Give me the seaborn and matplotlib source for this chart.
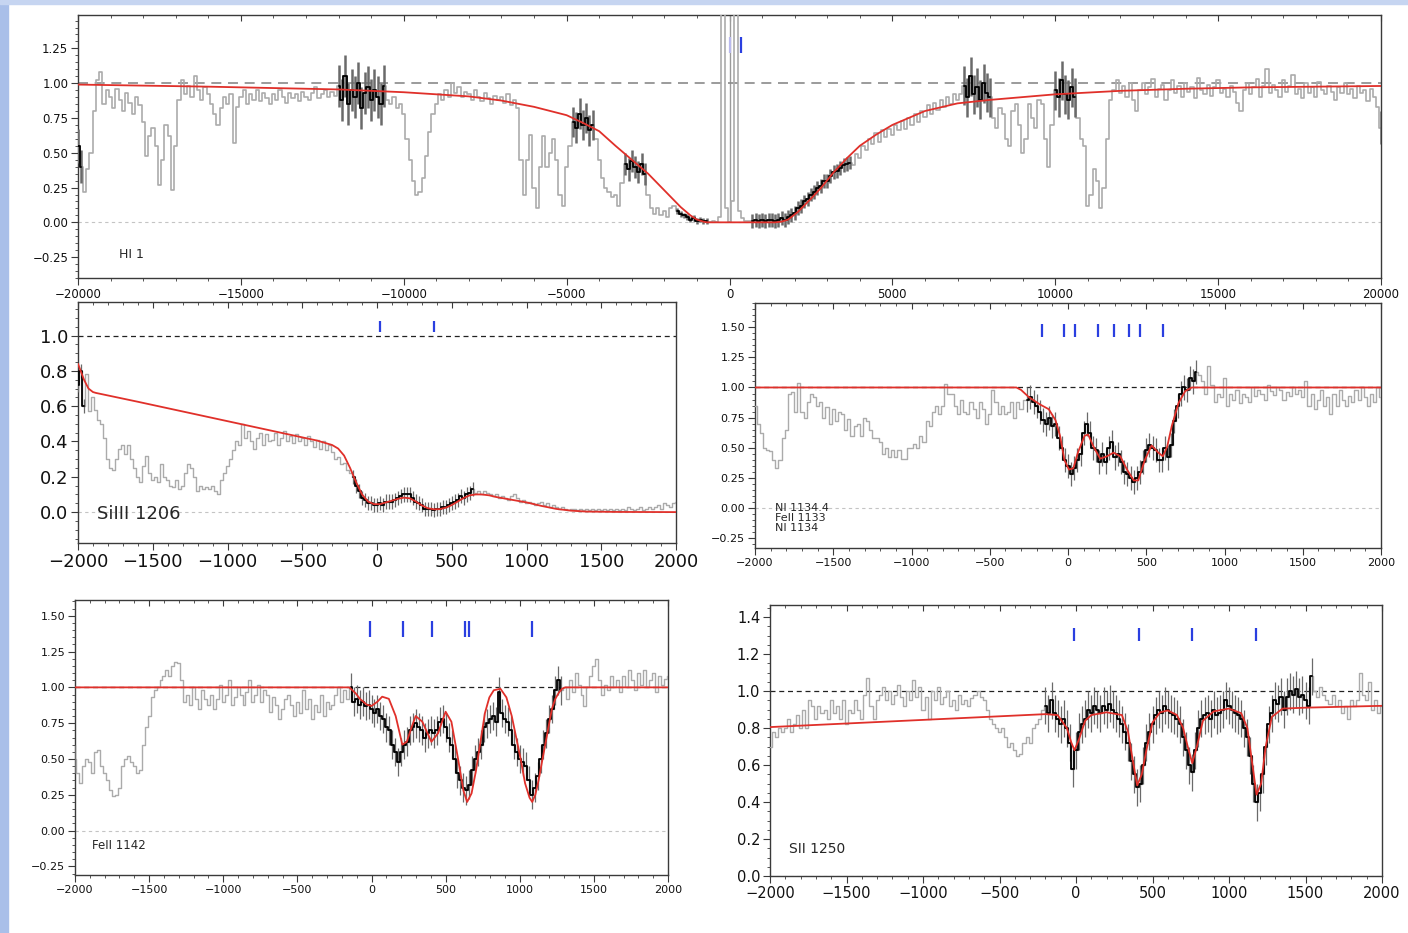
import numpy as np
import matplotlib
matplotlib.use("Agg")
import matplotlib.pyplot as plt
from matplotlib.ticker import MultipleLocator
from matplotlib.patches import Rectangle
import seaborn as sns

sns.set_theme(style="white")
plt.rcParams['font.family'] = ['DejaVu Sans']
plt.rcParams['axes.unicode_minus'] = True

# ---------------- HI 1 (wide velocity window, 100 km/s bins) ----------------
HI_V0, HI_DV = -20000, 100
HI_FLUX = [
    0.55, 0.4, 0.22, 0.38, 0.5, 0.8, 1.02, 1.08, 0.85, 0.95,
    0.9, 0.82, 0.96, 0.88, 0.8, 0.93, 0.86, 0.78, 0.9, 0.84,
    0.72, 0.48, 0.62, 0.68, 0.55, 0.27, 0.45, 0.7, 0.62, 0.23,
    0.55, 0.88, 1.02, 0.92, 0.98, 0.9, 1.05, 0.95, 0.88, 0.97,
    0.92, 0.85, 0.78, 0.7, 0.82, 0.9, 0.85, 0.92, 0.57, 0.83,
    0.9, 0.95, 0.85, 0.92, 0.88, 0.95, 0.87, 0.93, 0.89, 0.85,
    0.92, 0.88, 0.95, 0.9, 0.86, 0.93, 0.89, 0.92, 0.87, 0.94,
    0.9, 0.88, 0.93, 0.97, 0.89, 0.92, 0.95, 0.9, 0.94, 0.91,
    0.98, 0.88, 1.05, 0.85, 0.95, 0.9, 1.0, 0.82, 0.93, 0.97,
    0.88, 0.95, 0.9, 0.85, 0.98, 0.88, 0.85, 0.9, 0.82, 0.85,
    0.78, 0.6, 0.45, 0.3, 0.2, 0.22, 0.32, 0.48, 0.65, 0.78,
    0.85, 0.92, 0.88, 0.95, 0.9, 1.0, 0.93, 0.97, 0.9, 0.94,
    0.92, 0.88, 0.95, 0.9, 0.87, 0.93, 0.89, 0.85, 0.91, 0.88,
    0.9, 0.86, 0.92, 0.84, 0.88, 0.82, 0.45, 0.2, 0.45, 0.63,
    0.25, 0.1, 0.4, 0.62, 0.4, 0.5, 0.6, 0.45, 0.2, 0.12,
    0.4, 0.55, 0.72, 0.68, 0.78, 0.7, 0.75, 0.66, 0.7, 0.6,
    0.45, 0.32, 0.25, 0.22, 0.18, 0.2, 0.12, 0.28, 0.42, 0.38,
    0.44, 0.4, 0.36, 0.42, 0.35, 0.2, 0.1, 0.06, 0.1, 0.05,
    0.08, 0.04, 0.1, 0.12, 0.08, 0.06, 0.05, 0.04, 0.02, 0.03,
    0.01, 0.02, 0.01, 0.01, 0.0, 0.01, 0.0, 0.04, 3.0, 0.1,
    0.0, 0.15, 3.0, 0.08, 0.03, 0.01, 0.01, 0.01, 0.02, 0.01,
    0.02, 0.01, 0.015, 0.02, 0.01, 0.02, 0.03, 0.02, 0.04, 0.05,
    0.07, 0.1, 0.12, 0.15, 0.17, 0.2, 0.22, 0.25, 0.26, 0.3,
    0.3, 0.33, 0.36, 0.37, 0.39, 0.41, 0.42, 0.43, 0.41, 0.49,
    0.46, 0.55, 0.52, 0.6, 0.56, 0.64, 0.58, 0.66, 0.61, 0.67,
    0.63, 0.7, 0.66, 0.73, 0.67, 0.75, 0.7, 0.78, 0.72, 0.8,
    0.76, 0.84, 0.78, 0.86, 0.81, 0.88, 0.83, 0.9, 0.85, 0.92,
    0.88, 0.92, 0.98, 0.9, 1.05, 0.92, 0.97, 0.88, 1.0, 0.93,
    0.9, 0.75, 0.68, 0.82, 0.78, 0.6, 0.55, 0.8, 0.85, 0.7,
    0.5, 0.6, 0.85, 0.75, 0.68, 0.88, 0.85, 0.6, 0.4, 0.7,
    0.95, 0.9, 1.02, 0.92, 0.88, 0.97, 0.9, 0.75, 0.6, 0.55,
    0.12, 0.2, 0.38, 0.3, 0.1, 0.25, 0.6, 0.88, 0.95, 1.02,
    0.93, 0.98, 0.9, 1.0, 0.88, 0.8, 0.95, 1.0, 0.92, 0.97,
    1.03, 0.9, 0.96, 0.99, 0.88, 0.95, 1.02, 0.93, 0.98, 0.9,
    1.0, 0.94, 0.97, 0.89, 1.04, 0.95, 0.92, 0.99, 0.91, 0.97,
    1.02, 0.93, 0.96, 0.9, 0.98, 0.94, 0.86, 0.8, 0.95, 1.0,
    0.92, 0.97, 1.03, 0.9, 0.98, 1.1, 0.93, 0.99, 0.95, 0.9,
    1.02, 0.94, 0.98, 1.06, 0.92, 0.96, 0.89, 1.0, 0.93, 0.97,
    0.9, 1.01, 0.95, 0.92, 0.98, 0.94, 0.88, 0.97, 0.93, 1.0,
    0.92, 0.96, 0.89, 0.98, 0.93, 0.95, 0.87, 0.96, 0.9, 0.83,
    0.68,
]
HI_FIT_WINDOWS = [(-20000, -19850), (-12000, -10550), (-4850, -4150),
                  (-3250, -2550), (-1650, -650), (650, 3750),
                  (7150, 8050), (9950, 10650), (19950, 20000)]
HI_FIT_ERR = [0.12, 0.15, 0.11, 0.08, 0.02, 0.05, 0.14, 0.14, 0.12]
HI_MODEL_V = [-20000, -16000, -12000, -10000, -8000, -7000, -6000, -5000,
              -4500, -4000, -3500, -3000, -2500, -2000, -1500, -1200, -1000,
              -800, -700, 1400, 1600, 1800, 2100, 2500, 2800, 3200, 3600,
              4000, 4500, 5000, 6000, 7000, 8000, 9000, 10000, 12000, 14000,
              16000, 18000, 20000]
HI_MODEL_F = [0.99, 0.975, 0.955, 0.935, 0.905, 0.875, 0.83, 0.77,
              0.715, 0.655, 0.55, 0.45, 0.35, 0.23, 0.11, 0.05, 0.02,
              0.005, 0.0, 0.0, 0.005, 0.02, 0.075, 0.17, 0.245, 0.36, 0.46,
              0.55, 0.63, 0.7, 0.8, 0.855, 0.88, 0.9, 0.92, 0.945, 0.96,
              0.97, 0.975, 0.98]
HI_MARKS_FAINT = [0]
HI_MARKS = [360]

# ---------------- metal lines (20 km/s bins from -2000 to 2000) ----------------
NARROW_V0, NARROW_DV = -2000, 20

SIIII_FLUX = [
    0.72, 0.8, 0.6, 0.78, 0.57, 0.65, 0.58, 0.52, 0.5, 0.42,
    0.3, 0.25, 0.24, 0.3, 0.36, 0.38, 0.33, 0.38, 0.3, 0.25,
    0.2, 0.17, 0.26, 0.32, 0.22, 0.18, 0.2, 0.17, 0.27, 0.2,
    0.18, 0.15, 0.14, 0.18, 0.13, 0.15, 0.22, 0.27, 0.25, 0.2,
    0.12, 0.15, 0.13, 0.14, 0.13, 0.15, 0.12, 0.1, 0.18, 0.22,
    0.26, 0.3, 0.35, 0.4, 0.38, 0.5, 0.42, 0.46, 0.4, 0.36,
    0.42, 0.45, 0.38, 0.44, 0.4, 0.41, 0.45, 0.38, 0.42, 0.46,
    0.4, 0.43, 0.39, 0.44, 0.4, 0.42, 0.38, 0.43, 0.4, 0.37,
    0.41, 0.36, 0.4, 0.35, 0.38, 0.34, 0.3, 0.31, 0.27, 0.28,
    0.24, 0.22, 0.2, 0.15, 0.12, 0.08, 0.07, 0.05, 0.05, 0.04,
    0.04, 0.05, 0.04, 0.06, 0.06, 0.06, 0.07, 0.08, 0.09, 0.1,
    0.1, 0.1, 0.08, 0.06, 0.05, 0.04, 0.02, 0.02, 0.02, 0.01,
    0.02, 0.02, 0.03, 0.03, 0.04, 0.05, 0.06, 0.07, 0.09, 0.08,
    0.1, 0.11, 0.13, 0.11, 0.12, 0.1, 0.12, 0.11, 0.1, 0.09,
    0.1, 0.08, 0.09, 0.08, 0.07, 0.09, 0.1, 0.08, 0.06, 0.07,
    0.05, 0.06, 0.05, 0.04, 0.05, 0.06, 0.04, 0.05, 0.03, 0.04,
    0.03, 0.02, 0.03, 0.02, 0.01, 0.02, 0.02, 0.01, 0.02, 0.01,
    0.02, 0.01, 0.02, 0.01, 0.02, 0.01, 0.02, 0.01, 0.02, 0.01,
    0.02, 0.01, 0.02, 0.01, 0.03, 0.02, 0.01, 0.02, 0.03, 0.01,
    0.02, 0.03, 0.02, 0.03, 0.04, 0.02, 0.05, 0.04, 0.03, 0.05,
    0.06,
]
SIIII_FIT_WINDOWS = [(-2000, -1960), (-160, 640)]
SIIII_ERR = 0.04
SIIII_MODEL_V = [-2000, -1960, -1930, -1900, -1880, -1600, -1300, -1000, -700,
                 -400, -300, -260, -220, -180, -140, -100, -60, -20, 20, 60,
                 100, 140, 180, 220, 260, 300, 340, 380, 420, 460, 500, 540,
                 580, 620, 660, 700, 750, 800, 900, 1000, 1100, 1200, 1300,
                 1400, 1600, 2000]
SIIII_MODEL_F = [0.84, 0.75, 0.7, 0.68, 0.675, 0.625, 0.57, 0.515, 0.46,
                 0.405, 0.38, 0.36, 0.32, 0.25, 0.17, 0.1, 0.06, 0.045, 0.045,
                 0.055, 0.065, 0.075, 0.082, 0.078, 0.06, 0.038, 0.022, 0.016,
                 0.017, 0.025, 0.04, 0.06, 0.08, 0.095, 0.1, 0.1, 0.095,
                 0.085, 0.07, 0.055, 0.035, 0.018, 0.008, 0.003, 0.001, 0.0]
SIIII_MARKS = [20, 378]

NI_FLUX = [
    0.85, 0.7, 0.62, 0.5, 0.48, 0.47, 0.4, 0.33, 0.4, 0.58,
    0.65, 0.95, 0.96, 0.8, 1.04, 0.8, 0.75, 0.88, 0.95, 0.92,
    0.85, 0.88, 0.75, 0.84, 0.7, 0.82, 0.72, 0.8, 0.78, 0.65,
    0.74, 0.6, 0.68, 0.7, 0.6, 0.75, 0.72, 0.65, 0.58, 0.58,
    0.55, 0.45, 0.5, 0.42, 0.48, 0.42, 0.48, 0.41, 0.41, 0.5,
    0.5, 0.53, 0.5, 0.6, 0.55, 0.72, 0.68, 0.8, 0.85, 0.78,
    0.85, 1.03, 0.95, 0.95, 0.85, 0.78, 0.9, 0.8, 0.78, 0.88,
    0.82, 0.75, 0.88, 0.82, 0.7, 0.78, 0.98, 0.88, 0.78, 0.85,
    0.78, 0.8, 0.88, 0.75, 0.88, 0.82, 0.9, 0.9, 0.92, 0.88,
    0.85, 0.8, 0.73, 0.7, 0.75, 0.68, 0.7, 0.58, 0.5, 0.4,
    0.35, 0.28, 0.33, 0.4, 0.45, 0.62, 0.7, 0.62, 0.5, 0.48,
    0.38, 0.45, 0.38, 0.5, 0.55, 0.42, 0.45, 0.38, 0.3, 0.28,
    0.25, 0.22, 0.25, 0.3, 0.38, 0.48, 0.52, 0.5, 0.48, 0.4,
    0.4, 0.5, 0.42, 0.52, 0.72, 0.85, 0.95, 1.0, 0.98, 1.08,
    1.05, 1.13, 1.1, 1.05, 0.95, 1.18, 1.02, 0.88, 0.95, 0.92,
    1.08, 0.85, 0.95, 0.9, 0.98, 0.87, 0.95, 0.92, 0.88, 1.0,
    0.93, 0.98, 0.95, 0.9, 1.02, 0.97, 0.94, 1.0, 0.98, 0.9,
    0.96, 0.93, 1.0, 0.95, 0.98, 0.92, 1.05, 0.85, 0.95, 0.82,
    0.9, 0.98, 0.85, 0.92, 0.78, 0.95, 0.85, 0.98, 0.9, 0.85,
    0.93, 0.88, 0.98, 0.9, 1.0, 0.92, 0.85, 0.95, 0.88, 1.0,
    0.92,
]
NI_FIT_WINDOWS = [(-260, 820)]
NI_ERR = 0.1
NI_MODEL_V = [-2000, -330, -300, -250, -180, -123, -80, -51, -23, 6, 34, 63,
              106, 129, 163, 206, 249, 291, 334, 377, 420, 449, 491, 534, 577,
              606, 634, 663, 706, 749, 791, 2000]
NI_MODEL_F = [1.0, 1.0, 0.98, 0.92, 0.86, 0.82, 0.73, 0.6, 0.4, 0.32, 0.33,
              0.46, 0.6, 0.61, 0.51, 0.41, 0.43, 0.46, 0.43, 0.32, 0.23, 0.23,
              0.4, 0.52, 0.46, 0.43, 0.51, 0.68, 0.87, 0.97, 1.0, 1.0]
NI_MARKS = [-166, -23, 43, 191, 291, 391, 457, 606]

FEII_FLUX = [
    0.5, 0.4, 0.33, 0.45, 0.5, 0.48, 0.4, 0.55, 0.56, 0.45,
    0.4, 0.35, 0.28, 0.24, 0.25, 0.3, 0.45, 0.5, 0.52, 0.48,
    0.45, 0.4, 0.42, 0.6, 0.72, 0.8, 0.93, 0.98, 1.0, 1.05,
    1.08, 1.12, 1.08, 1.15, 1.18, 1.17, 1.05, 0.9, 0.95, 0.88,
    1.0, 0.92, 0.85, 0.98, 0.92, 0.88, 0.95, 0.85, 0.92, 1.02,
    0.9, 0.95, 1.05, 0.88, 0.93, 1.0, 0.95, 0.88, 0.97, 1.05,
    0.9, 0.95, 1.02, 0.9, 0.98, 0.95, 0.83, 0.93, 0.88, 0.78,
    0.85, 0.92, 0.95, 0.88, 0.8, 0.9, 0.82, 0.98, 0.85, 0.92,
    0.78, 0.88, 0.83, 0.95, 0.8, 0.9, 0.85, 0.88, 0.95, 1.0,
    0.9, 0.98, 0.92, 1.0, 0.9, 0.92, 0.88, 0.9, 0.87, 0.88,
    0.85, 0.82, 0.85, 0.8, 0.78, 0.72, 0.7, 0.6, 0.55, 0.48,
    0.55, 0.6, 0.62, 0.7, 0.72, 0.75, 0.72, 0.7, 0.65, 0.68,
    0.7, 0.68, 0.7, 0.76, 0.78, 0.72, 0.65, 0.6, 0.5, 0.4,
    0.35, 0.3, 0.28, 0.32, 0.42, 0.5, 0.55, 0.6, 0.72, 0.75,
    0.78, 0.8, 0.76, 0.97, 0.82, 0.78, 0.76, 0.7, 0.6, 0.55,
    0.5, 0.48, 0.45, 0.35, 0.25, 0.3, 0.38, 0.5, 0.6, 0.68,
    0.78, 0.85, 0.98, 1.05, 0.98, 1.0, 0.92, 1.05, 0.97, 1.1,
    1.02, 0.95, 0.87, 1.0, 1.08, 1.15, 1.2, 1.05, 0.95, 1.02,
    0.98, 1.08, 1.0, 1.05, 0.97, 1.08, 1.0, 1.12, 1.05, 0.98,
    1.1, 1.02, 1.12, 1.0, 1.05, 1.1, 0.97, 1.08, 1.02, 1.06,
    1.08,
]
FEII_FIT_WINDOWS = [(-2000, -1990), (-150, 1290)]
FEII_ERR = 0.1
FEII_MODEL_V = [-2000, -150, -108, -78, -33, 0, 40, 72, 117, 163, 208, 238,
                270, 298, 343, 404, 449, 500, 539, 584, 620, 645, 675, 705,
                735, 765, 795, 825, 870, 910, 946, 976, 1006, 1036, 1066, 1084,
                1105, 1127, 1150, 1172, 1195, 1217, 1240, 1262, 1285, 1307,
                2000]
FEII_MODEL_F = [1.0, 1.0, 0.96, 0.92, 0.88, 0.87, 0.9, 0.935, 0.92, 0.8, 0.6,
                0.62, 0.72, 0.8, 0.76, 0.62, 0.68, 0.83, 0.76, 0.5, 0.28, 0.2,
                0.26, 0.42, 0.62, 0.82, 0.93, 0.98, 0.99, 0.93, 0.8, 0.65, 0.5,
                0.33, 0.23, 0.2, 0.25, 0.35, 0.48, 0.6, 0.73, 0.85, 0.92, 0.96,
                0.99, 1.0, 1.0]
FEII_MARKS = [-12, 214, 410, 630, 660, 1084]

SII_FLUX = [
    0.7, 0.78, 0.75, 0.8, 0.78, 0.8, 0.85, 0.78, 0.82, 0.87,
    0.8, 0.9, 0.8, 0.95, 0.92, 0.85, 0.92, 0.88, 0.9, 0.85,
    0.95, 0.88, 0.92, 0.85, 0.95, 0.82, 0.9, 0.88, 0.95, 0.9,
    0.85, 0.98, 1.07, 0.92, 0.85, 0.95, 0.98, 1.02, 0.95, 1.0,
    0.93, 0.98, 1.03, 0.97, 0.92, 1.0, 0.95, 1.06, 0.97, 1.02,
    0.9, 0.97, 0.85, 1.0, 0.95, 1.02, 0.93, 0.97, 1.0, 0.92,
    0.95, 0.9, 0.98, 0.93, 0.95, 0.92, 0.96, 0.98, 1.0, 0.97,
    0.95, 0.9, 0.85, 0.82, 0.8, 0.78, 0.8, 0.75, 0.7, 0.72,
    0.68, 0.65, 0.66, 0.72, 0.75, 0.72, 0.8, 0.82, 0.85, 0.9,
    0.92, 0.88, 0.95, 0.88, 0.85, 0.82, 0.85, 0.8, 0.72, 0.58,
    0.68, 0.78, 0.82, 0.85, 0.9, 0.88, 0.92, 0.9, 0.88, 0.92,
    0.9, 0.93, 0.9, 0.88, 0.85, 0.82, 0.78, 0.72, 0.62, 0.55,
    0.48, 0.5, 0.6, 0.72, 0.78, 0.82, 0.87, 0.9, 0.88, 0.92,
    0.9, 0.88, 0.87, 0.85, 0.82, 0.75, 0.68, 0.6, 0.56, 0.68,
    0.8, 0.85, 0.87, 0.88, 0.85, 0.9, 0.87, 0.88, 0.9, 0.95,
    0.92, 0.9, 0.88, 0.87, 0.85, 0.8, 0.75, 0.65, 0.5, 0.4,
    0.45, 0.55, 0.7, 0.82, 0.88, 0.95, 0.93, 0.97, 0.9, 0.97,
    1.0, 0.98, 1.01, 0.97, 0.98, 0.95, 0.92, 1.08, 1.0, 0.97,
    1.02, 0.98, 0.95, 0.93, 0.98, 0.92, 0.95, 0.88, 0.92, 0.85,
    0.95, 0.92, 0.95, 1.1, 0.98, 0.95, 1.05, 0.9, 0.95, 0.88,
    0.92,
]
SII_FIT_WINDOWS = [(-200, 1550)]
SII_ERR = 0.1
SII_MODEL_V = [-2000, -200, -120, -60, -30, -10, 20, 60, 100, 200, 300, 340,
               370, 400, 430, 460, 500, 550, 600, 660, 700, 730, 760, 790, 830,
               900, 1000, 1080, 1120, 1150, 1180, 1210, 1240, 1280, 1350, 1500,
               2000]
SII_MODEL_F = [0.805, 0.875, 0.87, 0.8, 0.72, 0.68, 0.74, 0.84, 0.87, 0.885,
               0.87, 0.78, 0.63, 0.49, 0.55, 0.68, 0.83, 0.885, 0.895, 0.87,
               0.8, 0.7, 0.61, 0.7, 0.84, 0.89, 0.905, 0.88, 0.8, 0.62, 0.44,
               0.5, 0.7, 0.86, 0.905, 0.91, 0.92]
SII_MARKS = [-15, 409, 760, 1175]

GREY = '#ababab'
ERRC = '#6a6a6a'
RED = '#e0302a'
BLUE = '#2a3fe0'
FRAME = '#3a3a3a'


def velocity_grid(v0, dv, n):
    return v0 + dv * np.arange(n)


def style_axes(ax, xlim, ylim, xmaj, xmin, ymaj, ymin, fs):
    ax.set_xlim(*xlim)
    ax.set_ylim(*ylim)
    ax.xaxis.set_major_locator(MultipleLocator(xmaj))
    ax.xaxis.set_minor_locator(MultipleLocator(xmin))
    ax.yaxis.set_major_locator(MultipleLocator(ymaj))
    ax.yaxis.set_minor_locator(MultipleLocator(ymin))
    ax.tick_params(which='major', direction='out', length=5, width=0.8,
                   color=FRAME, labelsize=fs, labelcolor='#111111', pad=2,
                   bottom=True, left=True)
    ax.tick_params(which='minor', direction='out', length=2.5, width=0.6,
                   color=FRAME, bottom=True, left=True)
    top = ax.secondary_xaxis('top')
    top.xaxis.set_major_locator(MultipleLocator(xmaj))
    top.xaxis.set_minor_locator(MultipleLocator(xmin))
    top.tick_params(which='major', direction='in', length=4, width=0.8,
                    color=FRAME, labeltop=False)
    top.tick_params(which='minor', direction='in', length=2, width=0.6,
                    color=FRAME)
    top.spines['top'].set_visible(False)
    for s in ax.spines.values():
        s.set_color(FRAME)
        s.set_linewidth(1.0)
    ax.set_xlabel('')
    ax.set_ylabel('')


def draw_spectrum(ax, vel, flux, windows, errs, model_v, model_f,
                  one_style, lw_grey=1.0, err_lw=0.9):
    vel = np.asarray(vel, float)
    flux = np.asarray(flux, float)
    ax.axhline(1.0, **one_style, zorder=2)
    ax.axhline(0.0, color='#c4c4c4', lw=0.8, ls=(0, (3, 3)), zorder=1)
    sns.lineplot(x=vel, y=flux, ax=ax, color=GREY, lw=lw_grey,
                 drawstyle='steps-mid', legend=False, zorder=3)
    for (lo, hi), err in zip(windows, errs):
        m = (vel >= lo) & (vel <= hi)
        ax.vlines(vel[m], flux[m] - err, flux[m] + err, color=ERRC,
                  lw=err_lw, zorder=4)
        sns.lineplot(x=vel[m], y=flux[m], ax=ax, color='black', lw=1.3,
                     drawstyle='steps-mid', legend=False, zorder=5)
    sns.lineplot(x=model_v, y=model_f, ax=ax, color=RED, lw=1.3,
                 legend=False, zorder=6)


fig = plt.figure(figsize=(14.08, 9.33), dpi=100)
fig.patch.set_facecolor('white')
fig.patches.append(Rectangle((0, 0), 8 / 1408, 1, transform=fig.transFigure,
                             color='#a9bfe9', zorder=0))
fig.patches.append(Rectangle((0, 1 - 4 / 933), 1, 4 / 933,
                             transform=fig.transFigure, color='#c6d5f1',
                             zorder=0))

dash_grey = dict(color='#8a8a8a', lw=1.2, ls=(0, (6, 4)))
dash_black = dict(color='#222222', lw=0.9, ls=(0, (4, 3)))

# ---- HI 1 ----
ax0 = fig.add_axes([78 / 1408, 1 - 278 / 933, 1303 / 1408, 263 / 933])
hi_v = velocity_grid(HI_V0, HI_DV, len(HI_FLUX))
ax0.vlines(0, 0, 1.49, color='#9a9a9a', lw=1.0, zorder=2)
draw_spectrum(ax0, hi_v, HI_FLUX, HI_FIT_WINDOWS, HI_FIT_ERR,
              HI_MODEL_V, HI_MODEL_F, dash_grey, lw_grey=1.2, err_lw=1.8)
ax0.vlines(HI_MARKS_FAINT, 1.22, 1.33, color='#b9b9ee', lw=1.6, zorder=7)
ax0.vlines(HI_MARKS, 1.22, 1.33, color=BLUE, lw=1.6, zorder=7)
style_axes(ax0, (-20000, 20000), (-0.4, 1.49), 5000, 1000, 0.25, 0.05, 8.5)
ax0.text(-18750, -0.23, 'HI 1', fontsize=9, va='center', ha='left')

# ---- SiIII 1206 ----
ax1 = fig.add_axes([78 / 1408, 1 - 543 / 933, 598 / 1408, 241 / 933])
nv = velocity_grid(NARROW_V0, NARROW_DV, len(SIIII_FLUX))
draw_spectrum(ax1, nv, SIIII_FLUX, SIIII_FIT_WINDOWS,
              [SIIII_ERR] * len(SIIII_FIT_WINDOWS), SIIII_MODEL_V,
              SIIII_MODEL_F, dash_black)
ax1.vlines(SIIII_MARKS, 1.02, 1.08, color=BLUE, lw=1.6, zorder=7)
style_axes(ax1, (-2000, 2000), (-0.175, 1.19), 500, 100, 0.2, 0.05, 13)
ax1.text(-1870, -0.01, 'SiIII 1206', fontsize=13, va='center', ha='left')

# ---- NI 1134.4 / FeII 1133 / NI 1134 ----
ax2 = fig.add_axes([755 / 1408, 1 - 548 / 933, 626 / 1408, 245 / 933])
draw_spectrum(ax2, nv, NI_FLUX, NI_FIT_WINDOWS,
              [NI_ERR] * len(NI_FIT_WINDOWS), NI_MODEL_V, NI_MODEL_F,
              dash_black)
ax2.vlines(NI_MARKS, 1.42, 1.53, color=BLUE, lw=1.6, zorder=7)
style_axes(ax2, (-2000, 2000), (-0.33, 1.7), 500, 100, 0.25, 0.05, 8)
for i, lab in enumerate(['NI 1134.4', 'FeII 1133', 'NI 1134']):
    ax2.text(-1870, 0.005 - 0.083 * i, lab, fontsize=8, va='center',
             ha='left')

# ---- FeII 1142 ----
ax3 = fig.add_axes([75 / 1408, 1 - 875 / 933, 593 / 1408, 275 / 933])
draw_spectrum(ax3, nv, FEII_FLUX, FEII_FIT_WINDOWS,
              [FEII_ERR] * len(FEII_FIT_WINDOWS), FEII_MODEL_V,
              FEII_MODEL_F, dash_black)
ax3.vlines(FEII_MARKS, 1.35, 1.46, color=BLUE, lw=1.6, zorder=7)
style_axes(ax3, (-2000, 2000), (-0.31, 1.61), 500, 100, 0.25, 0.05, 8)
ax3.text(-1885, -0.105, 'FeII 1142', fontsize=8.5, va='center', ha='left')

# ---- SII 1250 ----
ax4 = fig.add_axes([770 / 1408, 1 - 876 / 933, 612 / 1408, 271 / 933])
draw_spectrum(ax4, nv, SII_FLUX, SII_FIT_WINDOWS,
              [SII_ERR] * len(SII_FIT_WINDOWS), SII_MODEL_V, SII_MODEL_F,
              dash_black)
ax4.vlines(SII_MARKS, 1.27, 1.34, color=BLUE, lw=1.6, zorder=7)
style_axes(ax4, (-2000, 2000), (0.0, 1.465), 500, 100, 0.2, 0.05, 10.5)
ax4.text(-1876, 0.147, 'SII 1250', fontsize=10, va='center', ha='left')

fig.savefig('out.png', dpi=100, facecolor='white')
